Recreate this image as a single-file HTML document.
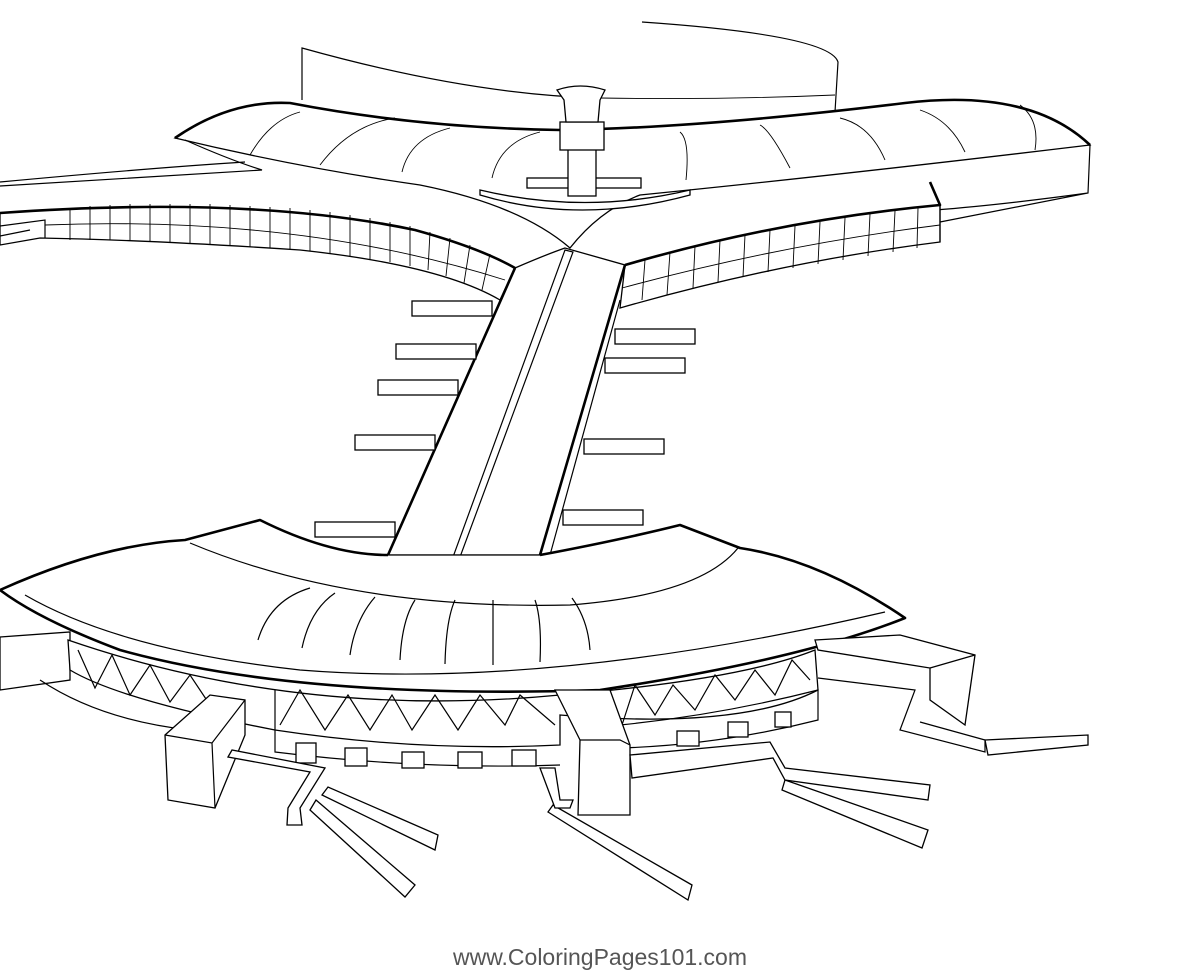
<!DOCTYPE html>
<html><head><meta charset="utf-8"><style>
html,body{margin:0;padding:0;background:#fff;width:1200px;height:977px;overflow:hidden}
svg{display:block}
.f{fill:#fff;stroke:#000;stroke-width:1.3}
.t{fill:none;stroke:#000;stroke-width:2.6;stroke-linejoin:round}
.n{fill:none;stroke:#000;stroke-width:1.2}
.g{fill:none;stroke:#000;stroke-width:0.9}
</style></head><body>
<svg width="1200" height="977" viewBox="0 0 1200 977" xmlns="http://www.w3.org/2000/svg">
<!-- back cylinder -->
<path class="n" d="M302,100 L302,48 Q470,95 600,98 M642,22 Q830,35 838,62 L835,112"/>
<path class="g" d="M600,98 Q720,100 835,95"/>
<!-- upper roof -->
<path class="f" d="M175,138 Q230,100 290,103 Q420,128 560,130 Q700,128 905,103 Q1030,88 1090,145 Q840,175 640,195 Q600,210 570,248 Q520,205 420,185 Q300,168 175,138 Z"/>
<path class="t" d="M175,138 Q230,100 290,103 Q420,128 560,130 Q700,128 905,103 Q1030,88 1090,145"/>
<path class="n" d="M1090,145 L1088,193 L940,222 M1088,193 Q1000,205 935,210"/>
<path class="n" d="M185,140 Q230,160 262,170 L0,186 M0,182 Q150,168 245,162"/>
<path class="g" d="M250,155 Q270,120 300,112 M320,165 Q350,125 395,118 M402,172 Q410,138 450,128 M492,178 Q500,142 540,132 M686,180 Q690,140 680,132 M790,168 Q770,130 760,125 M885,160 Q870,125 840,118 M965,152 Q950,120 920,110 M1035,150 Q1040,120 1020,105"/>
<!-- tower -->
<path class="f" d="M480,195 Q580,225 690,195 L690,190 Q585,215 480,190 Z"/>
<rect class="f" x="527" y="178" width="114" height="10"/>
<rect class="f" x="568" y="148" width="28" height="48"/>
<rect class="f" x="560" y="122" width="44" height="28"/>
<path class="f" d="M557,90 Q580,82 605,90 L600,100 L598,122 L566,122 L564,100 Z"/>
<!-- left grid band -->
<path class="f" d="M0,213 Q250,195 415,230 Q480,248 515,268 L500,300 Q440,265 300,250 Q150,240 40,238 L0,245 Z"/>
<path class="t" d="M0,213 Q250,195 415,230 Q480,248 515,268"/>
<path class="n" d="M0,226 L45,220 L45,238 M0,236 L30,230"/>
<g class="g">
<path d="M45,225 Q300,215 505,280"/>
<path d="M70,208 L70,240 M90,206 L90,240 M110,205 L110,240 M130,204 L130,241 M150,204 L150,242 M170,204 L170,243 M190,204 L190,244 M210,204 L210,245 M230,205 L230,246 M250,206 L250,247 M270,207 L270,248 M290,208 L290,249 M310,210 L310,251 M330,212 L330,253 M350,215 L350,256 M370,218 L370,259 M390,222 L390,262 M410,226 L410,266 M430,232 L428,270 M450,238 L446,276 M470,245 L464,283 M490,254 L482,290"/>
</g>
<!-- right grid band -->
<path class="f" d="M625,265 Q780,220 940,205 L940,242 Q780,262 620,308 Z"/>
<path class="t" d="M625,265 Q780,220 940,205 L930,182"/>
<path class="n" d="M940,205 L940,242"/>
<g class="g">
<path d="M622,288 Q780,245 940,225"/>
<path d="M645,260 L642,300 M670,252 L667,295 M695,246 L693,288 M720,240 L718,282 M745,235 L743,277 M770,230 L768,272 M795,226 L793,268 M820,222 L818,264 M845,218 L843,260 M870,214 L868,256 M895,211 L893,252 M918,208 L917,248"/>
</g>
<!-- central stem -->
<path class="f" d="M515,268 Q545,255 565,248 L625,265 L540,555 L388,555 Z"/>
<path class="t" d="M515,268 L388,555 M625,265 L540,555"/>
<path class="n" d="M620,300 L550,555 M565,250 L453,557 L460,557 L573,252 Z"/>
<!-- side rectangles -->
<g class="f">
<rect x="412" y="301" width="80" height="15"/><rect x="396" y="344" width="80" height="15"/>
<rect x="378" y="380" width="80" height="15"/><rect x="355" y="435" width="80" height="15"/>
<rect x="315" y="522" width="80" height="15"/>
<rect x="615" y="329" width="80" height="15"/><rect x="605" y="358" width="80" height="15"/>
<rect x="584" y="439" width="80" height="15"/><rect x="563" y="510" width="80" height="15"/>
</g>
<!-- lower left wing -->
<path class="f" d="M0,637 L70,632 L70,680 L0,690 Z"/>
<!-- base structure -->
<path class="f" d="M68,640 Q300,720 560,695 Q740,680 815,650 L818,690 Q740,730 560,715 L560,745 Q420,752 275,730 Q120,700 70,670 Z"/>
<path class="n" d="M40,680 Q100,720 190,730 M275,690 L275,752 Q420,770 560,765"/>
<g class="n">
<path d="M78,650 L95,688 L112,655 L130,695 L150,665 L170,702 L190,675 L210,705"/>
<path d="M280,725 L300,690 L325,730 L348,695 L370,730 L392,695 L412,730 L435,695 L458,730 L480,695 L505,725 L520,695 L555,725"/>
<path d="M622,725 L635,685 L655,715 L673,685 L695,710 L715,675 L735,700 L755,670 L775,695 L792,660 L810,680"/>
<path d="M620,725 Q720,715 818,690 L818,720 Q720,745 620,748"/>
</g>
<g class="f">
<rect x="296" y="743" width="20" height="20"/><rect x="345" y="748" width="22" height="18"/>
<rect x="402" y="752" width="22" height="16"/><rect x="458" y="752" width="24" height="16"/>
<rect x="512" y="750" width="24" height="16"/>
<rect x="677" y="731" width="22" height="15"/><rect x="728" y="722" width="20" height="15"/><rect x="775" y="712" width="16" height="15"/>
</g>
<!-- main lower roof -->
<path class="f" d="M0,590 Q100,545 185,540 L260,520 Q330,555 388,555 L540,555 Q620,540 680,525 L740,548 Q820,560 905,618 Q800,660 600,690 Q300,700 120,650 Q40,620 0,590 Z"/>
<path class="t" d="M0,590 Q100,545 185,540 L260,520 Q330,555 388,555 M540,555 Q620,540 680,525 L740,548 Q820,560 905,618 Q800,660 600,690 Q300,700 120,650 Q40,620 0,590"/>
<path class="n" d="M190,543 Q350,610 570,605 Q700,595 738,548 M25,595 Q120,650 300,670 Q550,690 885,612"/>
<g class="n">
<path d="M258,640 Q270,600 310,588 M302,648 Q310,610 335,593 M350,655 Q355,620 375,597 M400,660 Q402,620 415,600 M445,664 Q446,620 455,600 M493,665 L493,600 M540,662 Q542,620 535,600 M590,650 Q588,620 572,598"/>
</g>
<!-- pillars -->
<path class="f" d="M165,735 L210,695 L245,700 L245,735 L215,808 L168,800 Z"/>
<path class="n" d="M165,735 L212,743 L245,700 M212,743 L215,808"/>
<path class="f" d="M555,690 L580,740 L578,815 L630,815 L630,745 L610,690 Z"/>
<path class="n" d="M580,740 L620,740 L630,745"/>
<!-- right wing structures -->
<path class="f" d="M815,640 L900,635 L975,655 L965,725 L930,700 L930,668 L818,650 Z"/>
<path class="n" d="M930,668 L975,655 M818,678 L915,690 L900,730 L985,752 L985,740 L920,722"/>
<path class="f" d="M985,740 L1088,735 L1088,745 L988,755 Z"/>
<!-- walkways -->
<g class="f">
<path d="M228,757 L232,750 L325,768 L300,808 L302,825 L287,825 L288,808 L310,772 Z"/>
<path d="M322,795 L328,787 L438,835 L435,850 Z"/>
<path d="M310,810 L316,800 L415,885 L405,897 Z"/>
<path d="M548,812 L553,805 L692,885 L688,900 Z"/>
<path d="M540,768 L555,768 L560,800 L573,800 L570,808 L555,808 Z"/>
<path d="M630,755 L770,742 L785,768 L930,785 L928,800 L785,780 L773,758 L632,778 Z"/>
<path d="M785,780 L928,830 L922,848 L782,790 Z"/>
</g>
<!-- watermark -->
<text x="600" y="965" text-anchor="middle" font-family="Liberation Sans, sans-serif" font-size="23" fill="#555">www.ColoringPages101.com</text>
</svg>
</body></html>
